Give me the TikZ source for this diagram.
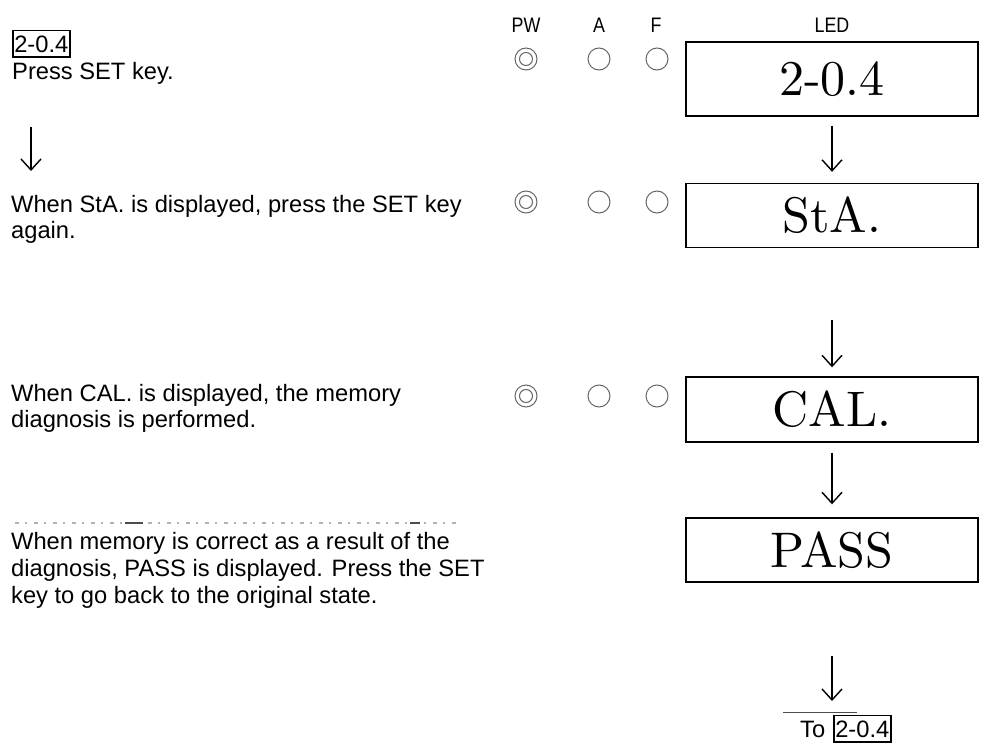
\documentclass[tikz,border=0pt]{standalone}
\usepackage{fontspec}
\usepackage{graphicx}
\newfontfamily\arial{Liberation Sans}
\newfontfamily\ledfont{lmroman10-regular}[Extension=.otf]
\usetikzlibrary{arrows.meta}
\begin{document}
\begin{tikzpicture}[x=1pt,y=-1pt,
  txt/.style={font=\arial\fontsize{23.7}{27}\selectfont, anchor=base west, inner sep=0pt},
  tag/.style={draw, line width=1.6pt, inner xsep=1.5pt, inner ysep=5pt, font=\arial\fontsize{23.7}{27}\selectfont, anchor=base west},
  hdr/.style={font=\arial\fontsize{21}{21}\selectfont, anchor=base, inner sep=0pt},
  led/.style={draw, line width=1.4pt, minimum width=292pt, inner sep=0pt, font=\ledfont\fontsize{50}{50}\selectfont},
  lamp/.style={circle, draw=black!60, line width=1pt, minimum size=22pt, inner sep=0pt},
  lampin/.style={circle, draw=black!60, line width=1pt, minimum size=13pt, inner sep=0pt},
  arr/.style={line width=1.4pt, -{Straight Barb[length=11pt,width=20pt,line width=1.4pt]}}]
\useasboundingbox (0,0) rectangle (983,744);

% left column texts
\node[tag] (t0) at (12,52) {2-0.4};
\node[txt] (t1) at (12,79) {Press SET key.};
\coordinate (la1) at (31,127);
\coordinate (la2) at (31,171);
\draw[arr] (la1) -- (la2);
\node[txt] (t2a) at (11,212) {When StA. is displayed, press the SET key};
\node[txt] (t2b) at (11,238) {again.};
\node[txt] (t3a) at (11,401) {When CAL. is displayed, the memory};
\node[txt] (t3b) at (11,427) {diagnosis is performed.};
\coordinate (g1) at (15,523);
\coordinate (g2) at (457,523);
\draw[line width=1.2pt, black!30, dash pattern=on 4pt off 6pt on 2pt off 7pt] (g1) -- (g2);
\coordinate (g3) at (125,523);
\coordinate (g4) at (143,523);
\draw[line width=1.4pt, black!70] (g3) -- (g4);
\coordinate (g5) at (410,523);
\coordinate (g6) at (420,523);
\draw[line width=1.4pt, black!70] (g5) -- (g6);
\node[txt] (t4a) at (11,549) {When memory is correct as a result of the};
\node[txt] (t4b) at (11,576) {diagnosis, PASS is displayed. Press the SET};
\node[txt] (t4c) at (11,603) {key to go back to the original state.};

% headers
\node[hdr] (hpw) at (526,32) {\scalebox{0.85}[1]{PW}};
\node[hdr] (ha) at (599,32) {\scalebox{0.85}[1]{A}};
\node[hdr] (hf) at (656,32) {\scalebox{0.85}[1]{F}};
\node[hdr] (hled) at (832,32) {\scalebox{0.85}[1]{LED}};

% lamps row 1
\node[lamp] (pw1) at (526,59) {};
\node[lampin] (pw1i) at (526,59) {};
\node[lamp] (a1) at (599,59) {};
\node[lamp] (f1) at (657,59) {};
% lamps row 2
\node[lamp] (pw2) at (526,202) {};
\node[lampin] (pw2i) at (526,202) {};
\node[lamp] (a2) at (599,202) {};
\node[lamp] (f2) at (657,202) {};
% lamps row 3
\node[lamp] (pw3) at (526,396) {};
\node[lampin] (pw3i) at (526,396) {};
\node[lamp] (a3) at (599,396) {};
\node[lamp] (f3) at (657,396) {};

% LED boxes
\node[led, minimum height=74pt] (b1) at (832,79) {2-0.4};
\node[led, minimum height=64pt] (b2) at (832,215.5) {StA.};
\node[led, minimum height=65pt] (b3) at (832,409.5) {CAL.};
\node[led, minimum height=64pt] (b4) at (832,550) {PASS};

% arrows
\draw[arr, shorten <=9pt, shorten >=11pt] (b1.south) -- (b2.north);
\draw[arr, shorten <=72pt, shorten >=9pt] (b2.south) -- (b3.north);
\draw[arr, shorten <=10pt, shorten >=13pt] (b3.south) -- (b4.north);
\coordinate (endarr) at (832,701);
\draw[arr, shorten <=73pt] (b4.south) -- (endarr);

% bottom reference
\coordinate (ul1) at (783,712);
\coordinate (ul2) at (857,712);
\draw[line width=0.8pt, black!70] (ul1) -- (ul2);
\node[txt] (to) at (800,737) {To};
\node[tag] (t5) at (833,737) {2-0.4};
\end{tikzpicture}
\end{document}
